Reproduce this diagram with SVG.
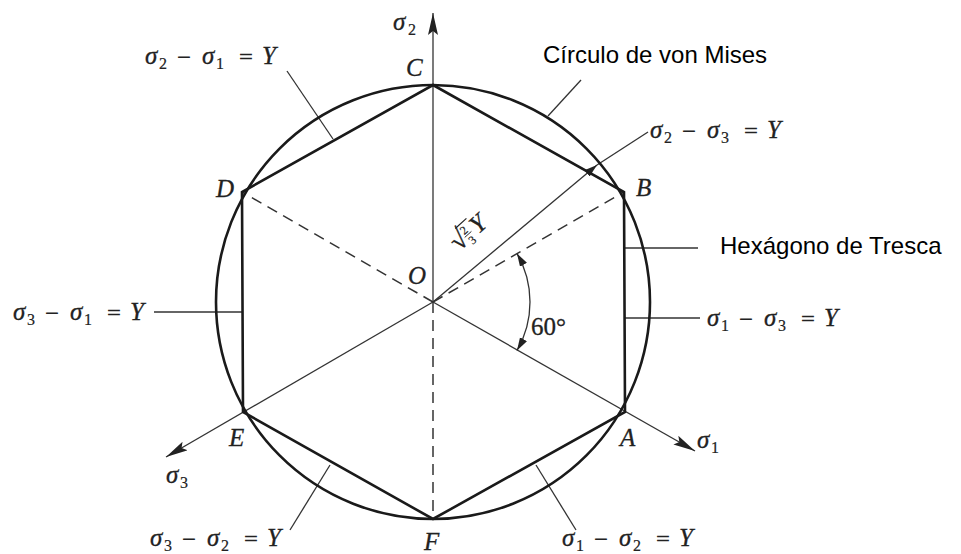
<svg xmlns="http://www.w3.org/2000/svg" width="961" height="554" viewBox="0 0 961 554">
<defs>
<style>
.thick{fill:none;stroke:#1a1a1a;stroke-width:2.6}
.thin{fill:none;stroke:#333;stroke-width:1.3}
.dash{fill:none;stroke:#333;stroke-width:1.5;stroke-dasharray:11 7}
.i{font-family:"Liberation Serif",serif;font-style:italic;font-size:25px;fill:#222;stroke:#222;stroke-width:0.3}
.r{font-family:"Liberation Serif",serif;font-style:normal;font-size:25px;fill:#222;stroke:#222;stroke-width:0.3}
.op{font-family:"DejaVu Serif",serif;font-style:normal;font-size:19px;fill:#222}
.sub{font-family:"Liberation Serif",serif;font-style:normal;font-size:16px;fill:#222;stroke:#222;stroke-width:0.2}
.lab{font-family:"Liberation Sans",Arial,sans-serif;font-size:24px;fill:#000}
</style>
<marker id="ax" markerUnits="userSpaceOnUse" markerWidth="24" markerHeight="12" refX="22" refY="5" orient="auto">
<path d="M0,0 L22,5 L0,10 L4,5 z" fill="#222"/>
</marker>
<marker id="sm" markerUnits="userSpaceOnUse" markerWidth="16" markerHeight="10" refX="13" refY="4" orient="auto-start-reverse">
<path d="M0,0 L13,4 L0,8 z" fill="#222"/>
</marker>
</defs>
<rect width="961" height="554" fill="#fff"/>

<g id="connectors">
<line class="thin" x1="433" y1="302" x2="433" y2="13" marker-end="url(#ax)"/>
<line class="thin" x1="433" y1="302" x2="695" y2="451" marker-end="url(#ax)"/>
<line class="thin" x1="433" y1="302" x2="166" y2="457" marker-end="url(#ax)"/>
<line class="dash" x1="433" y1="302" x2="242" y2="192"/>
<line class="dash" x1="433" y1="302" x2="624" y2="192"/>
<line class="dash" x1="433" y1="302" x2="433" y2="519"/>
<line class="thin" x1="433" y1="302" x2="597" y2="165" marker-end="url(#sm)"/>
<line class="thin" x1="597" y1="165" x2="648" y2="132"/>
<path class="thin" d="M517,253.5 A97,97 0 0 1 517,350.5" marker-start="url(#sm)" marker-end="url(#sm)"/>
<line class="thin" x1="287" y1="71" x2="333" y2="139"/>
<line class="thin" x1="290" y1="530" x2="330" y2="465"/>
<line class="thin" x1="576" y1="530" x2="536" y2="465"/>
<line class="thin" x1="154" y1="312" x2="243" y2="312"/>
<line class="thin" x1="624" y1="318" x2="700" y2="318"/>
<line class="thin" x1="624" y1="248" x2="698" y2="248"/>
<line class="thin" x1="548" y1="116" x2="581" y2="80"/>
</g>

<g id="circle">
<circle class="thick" cx="433" cy="302" r="217"/>
</g>
<g id="hexagon">
<path class="thick" d="M433,85 L624,192 L625,412 L433,519 L243,412 L242,192 Z"/>
</g>

<g id="vertex-labels">
<text class="i" x="406" y="76">C</text>
<text class="i" x="216" y="197">D</text>
<text class="i" x="636" y="196">B</text>
<text class="i" x="229" y="446">E</text>
<text class="i" x="620" y="446">A</text>
<text class="i" x="424" y="550">F</text>
<text class="i" x="408" y="284">O</text>
</g>

<g id="axis-labels">
<text><tspan class="i" x="393" y="30">σ</tspan><tspan class="sub" x="408" y="35">2</tspan></text>
<text><tspan class="i" x="697" y="448">σ</tspan><tspan class="sub" x="711" y="453">1</tspan></text>
<text><tspan class="i" x="166" y="483">σ</tspan><tspan class="sub" x="180" y="488">3</tspan></text>
<text class="r" x="531" y="335">60°</text>
</g>

<g id="sqrt-label" transform="translate(459,252) rotate(-42)">
<text class="r" x="0" y="0" style="font-size:28px">√</text>
<line x1="13" y1="-20" x2="28" y2="-20" stroke="#222" stroke-width="1.2"/>
<text class="sub" x="15" y="-9" style="font-size:12px">2</text>
<line x1="14" y1="-7" x2="23" y2="-7" stroke="#222" stroke-width="0.9"/>
<text class="sub" x="15" y="4" style="font-size:12px">3</text>
<text class="i" x="26" y="0">Y</text>
</g>

<g id="eq-s2s1">
<text><tspan class="i" x="145" y="64">σ</tspan><tspan class="sub" x="159" y="69">2</tspan><tspan class="op" x="176" y="63">−</tspan><tspan class="i" x="202" y="64">σ</tspan><tspan class="sub" x="216" y="69">1</tspan><tspan class="op" x="238" y="63">=</tspan><tspan class="i" x="262" y="64">Y</tspan></text>
</g>
<g id="eq-s2s3">
<text><tspan class="i" x="650" y="138">σ</tspan><tspan class="sub" x="664" y="143">2</tspan><tspan class="op" x="681" y="137">−</tspan><tspan class="i" x="707" y="138">σ</tspan><tspan class="sub" x="721" y="143">3</tspan><tspan class="op" x="743" y="137">=</tspan><tspan class="i" x="767" y="138">Y</tspan></text>
</g>
<g id="eq-s3s1">
<text><tspan class="i" x="13" y="320">σ</tspan><tspan class="sub" x="27" y="325">3</tspan><tspan class="op" x="44" y="319">−</tspan><tspan class="i" x="70" y="320">σ</tspan><tspan class="sub" x="84" y="325">1</tspan><tspan class="op" x="106" y="319">=</tspan><tspan class="i" x="130" y="320">Y</tspan></text>
</g>
<g id="eq-s1s3">
<text><tspan class="i" x="707" y="326">σ</tspan><tspan class="sub" x="721" y="331">1</tspan><tspan class="op" x="738" y="325">−</tspan><tspan class="i" x="764" y="326">σ</tspan><tspan class="sub" x="778" y="331">3</tspan><tspan class="op" x="800" y="325">=</tspan><tspan class="i" x="824" y="326">Y</tspan></text>
</g>
<g id="eq-s3s2">
<text><tspan class="i" x="150" y="546">σ</tspan><tspan class="sub" x="164" y="551">3</tspan><tspan class="op" x="181" y="545">−</tspan><tspan class="i" x="207" y="546">σ</tspan><tspan class="sub" x="221" y="551">2</tspan><tspan class="op" x="243" y="545">=</tspan><tspan class="i" x="267" y="546">Y</tspan></text>
</g>
<g id="eq-s1s2">
<text><tspan class="i" x="562" y="546">σ</tspan><tspan class="sub" x="576" y="551">1</tspan><tspan class="op" x="593" y="545">−</tspan><tspan class="i" x="619" y="546">σ</tspan><tspan class="sub" x="633" y="551">2</tspan><tspan class="op" x="655" y="545">=</tspan><tspan class="i" x="679" y="546">Y</tspan></text>
</g>

<g id="label-mises">
<text class="lab" x="543" y="63">Círculo de von Mises</text>
</g>
<g id="label-tresca">
<text class="lab" x="720" y="254">Hexágono de Tresca</text>
</g>
</svg>
